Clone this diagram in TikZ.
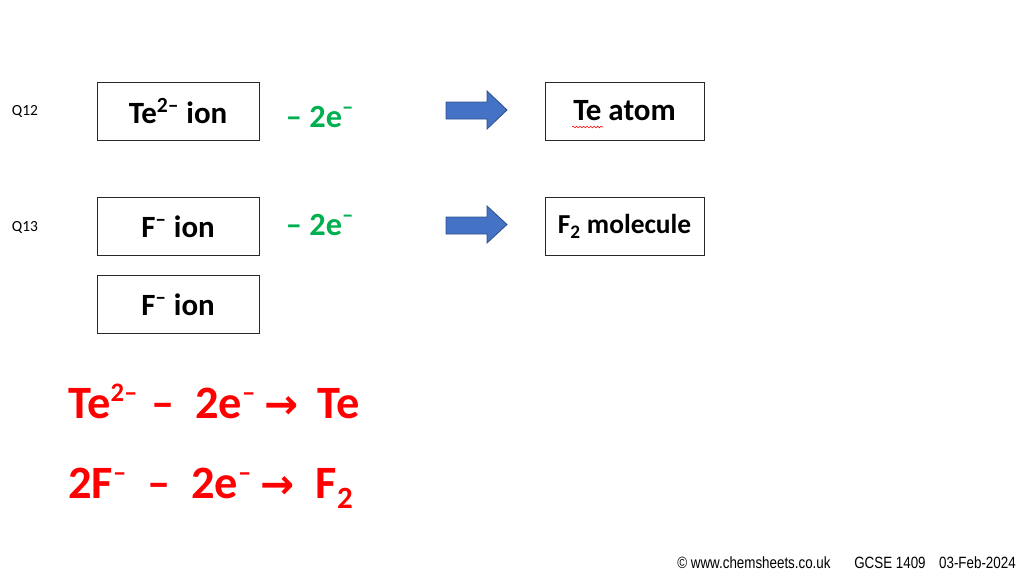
\documentclass[tikz,border=0pt]{standalone}
\usepackage{fontspec}
\setmainfont{Carlito}
\newfontfamily\symfont{DejaVu Sans}
\newfontfamily\footfont[FakeStretch=0.82]{Liberation Sans}
\usepackage{tikz}
\usetikzlibrary{decorations.pathmorphing}
\definecolor{eqred}{RGB}{255,0,0}
\definecolor{lossgreen}{RGB}{0,176,80}
\definecolor{arrowfill}{RGB}{68,114,196}
\definecolor{arrowedge}{RGB}{47,82,143}
\definecolor{boxedge}{RGB}{40,40,40}
\newcommand{\eqsup}[1]{\raisebox{0.75ex}{\fontsize{19}{19}\selectfont #1}}
\newcommand{\eqsub}[1]{\raisebox{-0.45ex}{\fontsize{22}{22}\selectfont #1}}
\tikzstyle{box}=[draw=boxedge, line width=0.7pt, inner sep=0pt, minimum width=40.5mm, minimum height=14.5mm, font=\fontsize{22}{26}\selectfont\bfseries]
\tikzstyle{rbox}=[box, minimum width=39.75mm]
\tikzstyle{qlabel}=[inner sep=0pt, font=\fontsize{11}{13}\selectfont]
\tikzstyle{loss}=[inner sep=0pt, text=lossgreen, font=\fontsize{23}{27}\selectfont\bfseries]
\tikzstyle{equation}=[inner sep=0pt, anchor=base west, text=eqred, font=\fontsize{33}{40}\selectfont\bfseries]
\tikzstyle{blockarrow}=[fill=arrowfill, draw=arrowedge, line width=0.6pt]
\tikzstyle{footer}=[inner sep=0pt, font=\footfont\fontsize{11.6}{13}\selectfont]

\begin{document}
\begin{tikzpicture}[x=0.25mm, y=-0.25mm]
        \useasboundingbox (0,0) rectangle (1024,576);
        % Q12
        \node[qlabel] (q12) at (25,112) {Q12};
        \node[box] (te2ion) at (178,111) {Te\textsuperscript{2--} ion};
        \node[loss] (loss12) at (320,117) {– 2e\textsuperscript{–}};
        \draw[blockarrow] (446,102) -- (487,102) -- (487,91) -- (507,110) -- (487,129) -- (487,119) -- (446,119) -- cycle;
        \node[rbox] (teatom) at (624.5,111) {Te atom};
        \draw[red, line width=0.4pt, decorate, decoration={snake, amplitude=0.6pt, segment length=2.5pt}] (572,127) -- (603,127);
        % Q13
        \node[qlabel] (q13) at (25,228) {Q13};
        \node[box] (fion) at (178,226.5) {F\textsuperscript{--} ion};
        \node[box] (fiontwo) at (178,304.5) {F\textsuperscript{--} ion};
        \node[loss] (loss13) at (320,225) {– 2e\textsuperscript{–}};
        \draw[blockarrow] (446,217) -- (487,217) -- (487,206) -- (507,224.5) -- (487,243) -- (487,234) -- (446,234) -- cycle;
        \node[rbox, font=\fontsize{19.5}{23}\selectfont\bfseries] (ftwo) at (624.5,226.5) {F\textsubscript{2} molecule};
        % equations
        \node[equation] (eqte) at (68,418) {Te\eqsup{2–}\hspace{0.3em}–\hspace{0.45em}2e\eqsup{–}\hspace{0.2em}{\symfont\fontsize{29}{29}\selectfont →}\hspace{0.4em}Te};
        \node[equation] (eqf) at (68,498) {2F\eqsup{–}\hspace{0.45em}–\hspace{0.45em}2e\eqsup{–}\hspace{0.2em}{\symfont\fontsize{29}{29}\selectfont →}\hspace{0.45em}F\eqsub{2}};
        % footer
        \node[footer, anchor=west] (copy) at (677,563) {© www.chemsheets.co.uk};
        \node[footer, anchor=west] (code) at (854,563) {GCSE 1409};
        \node[footer, anchor=east] (date) at (1016,563) {03-Feb-2024};
    \end{tikzpicture}
\end{document}
